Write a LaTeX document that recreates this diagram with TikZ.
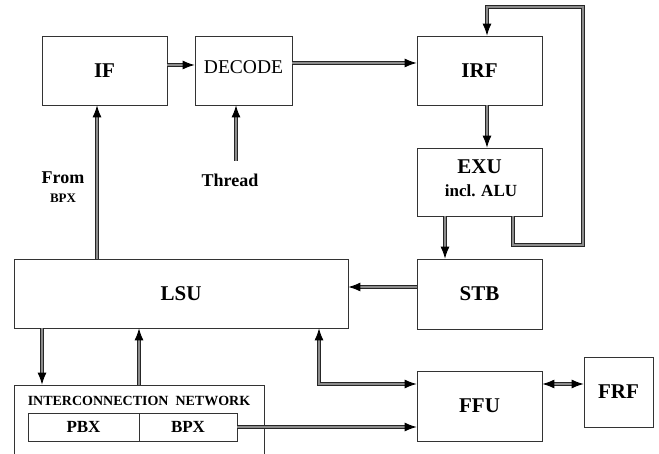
\documentclass[tikz,border=0pt]{standalone}
\usepackage{fontspec}
\setmainfont{Liberation Serif}
\usetikzlibrary{arrows.meta}
\begin{document}
\begin{tikzpicture}[x=1pt,y=-1pt,
  box/.style={draw=black!80,line width=0.8pt,rectangle,inner sep=0pt,align=center},
  big/.style={font=\fontsize{21}{23}\selectfont\bfseries},
  conn/.style={draw=black!85,line width=0.9pt,double=black!45,double distance=1.3pt,line join=miter},
  arr/.style={conn,-{Latex[length=12pt,width=9pt,color=black,fill=black]}},
  arrb/.style={conn,{Latex[length=12pt,width=9pt,color=black,fill=black]}-{Latex[length=12pt,width=9pt,color=black,fill=black]}}]
\useasboundingbox (0,0) rectangle (659,454);
\fill[white] (0,0) rectangle (659,454);
% boxes
\node[box,big,minimum width=125pt,minimum height=69pt] (if) at (104.5,70.5) {IF};
\node[box,minimum width=97pt,minimum height=69pt,font=\fontsize{19.5}{21}\selectfont,text depth=6pt] (dec) at (243.5,70.5) {DECODE};
\node[box,big,minimum width=125pt,minimum height=69pt] (irf) at (479.5,70.5) {IRF};
\node[box,minimum width=125pt,minimum height=68pt] (exu) at (479.5,182) {};
\node[big] (exut) at (479.5,167) {EXU};
\node[font=\fontsize{17}{19}\selectfont\bfseries] (exus) at (481,191) {incl. ALU};
\node[box,big,minimum width=125pt,minimum height=70pt] (stb) at (479.5,294) {STB};
\node[box,big,minimum width=334pt,minimum height=69pt] (lsu) at (181,293.5) {LSU};
\node[box,big,minimum width=125pt,minimum height=70pt] (ffu) at (479.5,406) {FFU};
\node[box,big,minimum width=69pt,minimum height=70pt] (frf) at (618.5,392) {FRF};
\node[box,minimum width=250pt,minimum height=90pt] (net) at (139,430) {};
\node[font=\fontsize{14}{16}\selectfont\bfseries] (nett) at (139,401) {INTERCONNECTION\ \ NETWORK};
\node[box,minimum width=111pt,minimum height=28pt,font=\fontsize{17}{19}\selectfont\bfseries] (pbx) at (83.5,427) {PBX};
\node[box,minimum width=98pt,minimum height=28pt,font=\fontsize{17}{19}\selectfont\bfseries] (bpx) at (188,427) {BPX};
% labels
\node[font=\fontsize{18}{20}\selectfont\bfseries] (thread) at (230,180) {Thread};
\node[font=\fontsize{18}{20}\selectfont\bfseries] (from) at (63,178) {From};
\node[font=\fontsize{13}{15}\selectfont\bfseries] (fbpx) at (63,198) {BPX};
\coordinate (thr) at (236,161);
\coordinate (lpA) at (583,245);
\coordinate (lpB) at (487,7);
% connectors
\draw[arr] ([yshift=5.5pt]if.east) -- ([yshift=5.5pt]dec.west);
\draw[arr] ([yshift=7.5pt]dec.east) -- ([yshift=7.5pt]irf.west);
\draw[arr] (thr) -- (thr |- dec.south);
\draw[arr] ([xshift=-7.5pt]if.south |- lsu.north) -- ([xshift=-7.5pt]if.south);
\draw[arr] ([xshift=7.5pt]irf.south) -- ([xshift=7.5pt]exu.north);
\draw[arr] ([xshift=-34.5pt]exu.south) -- ([xshift=-34.5pt]stb.north);
\draw[arr] ([xshift=33.5pt]exu.south) |- (lpA) |- (lpB) -- ([xshift=7.5pt]irf.north);
\draw[arr] ([yshift=7pt]stb.west) -- ([yshift=7pt]stb.west -| lsu.east);
\draw[arr] ([xshift=-139pt]lsu.south) -- ([xshift=-139pt]lsu.south |- net.north);
\draw[arr] ([xshift=-42pt]lsu.south |- net.north) -- ([xshift=-42pt]lsu.south);
\draw[arrb] ([yshift=22pt]ffu.west) -| ([xshift=138pt]lsu.south);
\draw[arr] (bpx.east) -- (bpx.east -| ffu.west);
\draw[arrb] ([yshift=22pt]ffu.east) -- ([yshift=22pt]ffu.east -| frf.west);
\end{tikzpicture}
\end{document}
